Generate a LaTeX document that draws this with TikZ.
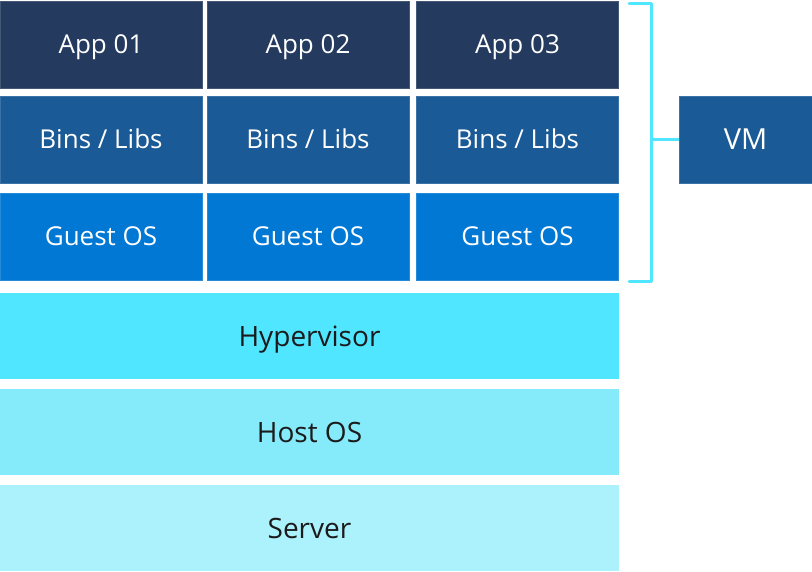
\documentclass[tikz,border=0pt]{standalone}
\usepackage{fontspec}
\setmainfont{Open Sans}
\usepackage{tikz}
\usetikzlibrary{positioning}
\pgfdeclarelayer{background}
\pgfdeclarelayer{foreground}
\pgfsetlayers{background,main,foreground}
\definecolor{appnavy}{HTML}{243A5E}
\definecolor{binblue}{HTML}{1A5A96}
\definecolor{guestblue}{HTML}{0078D4}
\definecolor{hypercyan}{HTML}{50E6FF}
\definecolor{hostcyan}{HTML}{85EBFB}
\definecolor{servercyan}{HTML}{ACF2FC}
\definecolor{darktext}{HTML}{1B1B1B}

\begin{document}
\begin{tikzpicture}[x=1pt,y=-1pt,
							layerbox/.style={rectangle, inner sep=0pt, minimum width=202pt, minimum height=87pt, text height=18.6pt, text depth=0pt},
							appbox/.style={layerbox, fill=appnavy, draw=appnavy!85!white, line width=0.6pt, text=white, font=\fontsize{26}{30}\selectfont},
							binbox/.style={layerbox, fill=binblue, draw=binblue!85!white, line width=0.6pt, text=white, font=\fontsize{26}{30}\selectfont},
							guestbox/.style={layerbox, fill=guestblue, draw=guestblue!85!white, line width=0.6pt, text=white, font=\fontsize{26}{30}\selectfont},
							basebox/.style={rectangle, inner sep=0pt, minimum width=619pt, minimum height=86pt, text height=20pt, text depth=0pt, text=darktext, font=\fontsize{28}{32}\selectfont},
							bracket/.style={draw=hypercyan, line width=3pt, line cap=round, line join=round},
							]
							\useasboundingbox (0,0) rectangle (812,571);
							%Nodes
							\node[appbox]      (app1) 	at 	(101,44.5)      {App 01};
							\node[appbox]      (app2) 	at 	(308,44.5)      {App 02};
							\node[appbox]      (app3) 	at 	(517.5,44.5)    {App 03};
							\node[binbox]      (bin1) 	at 	(101,139.5)     {Bins / Libs};
							\node[binbox]      (bin2) 	at 	(308,139.5)     {Bins / Libs};
							\node[binbox]      (bin3) 	at 	(517.5,139.5)   {Bins / Libs};
							\node[guestbox]    (guest1) 	at 	(101,236.5)     {Guest OS};
							\node[guestbox]    (guest2) 	at 	(308,236.5)     {Guest OS};
							\node[guestbox]    (guest3) 	at 	(517.5,236.5)   {Guest OS};
							\node[basebox, fill=hypercyan]   (hyper) 	at 	(309.5,336)     {Hypervisor};
							\node[basebox, fill=hostcyan]    (host) 	at 	(309.5,432)     {Host OS};
							\node[basebox, fill=servercyan]  (server) 	at 	(309.5,528)     {Server};
							\node[binbox, minimum width=133pt, text height=20.7pt, font=\fontsize{29}{32}\selectfont] (vm) at (745.5,139.5) {VM};

							\coordinate (brtop) 	at 	(629,3);
							\coordinate (brtopc) 	at 	(651,3);
							\coordinate (brbotc) 	at 	(651,281);
							\coordinate (brbot) 	at 	(629,281);

							\begin{pgfonlayer}{background}
							\draw[bracket] (brtop) -- (brtopc) -- (brbotc) -- (brbot);
							\draw[bracket, line cap=butt] (brtopc |- vm.west) -- (vm.west);
							\end{pgfonlayer}
\end{tikzpicture}
\end{document}
